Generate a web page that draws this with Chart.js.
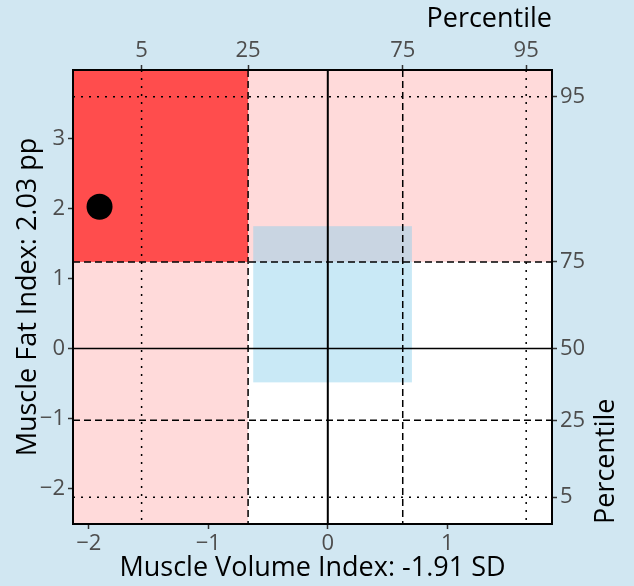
<!DOCTYPE html>
<html>
<head>
<meta charset="utf-8">
<script src="https://cdn.jsdelivr.net/npm/chart.js@4"></script>
<style>
  html, body { margin: 0; padding: 0; background: #d1e7f2; }
  #wrap { width: 634px; height: 586px; }
</style>
</head>
<body>
<div id="wrap"><canvas id="chart" width="634" height="586"></canvas></div>
<script>
// axis ticks and ranges (SD / pp units)
const xTicks = [-2, -1, 0, 1];
const yTicks = [-2, -1, 0, 1, 2, 3];
const xRange = [-2.132, 1.876];
const yRange = [-2.51, 3.987];

// percentile positions on each axis
const xPctValues = [-1.558, -0.667, 0.627, 1.66];
const xPctLabels = ['5', '25', '75', '95'];
const yPctValues = [-2.126, -1.027, 0, 1.241, 3.605];
const yPctLabels = ['5', '25', '50', '75', '95'];

// reference band (blue box)
const bandX = [-0.624, 0.704];
const bandY = [-0.483, 1.752];

// the subject
const subjectX = [-1.91];
const subjectY = [2.03];

const tickFont = { family: "'Open Sans', sans-serif", size: 22 };
const titleFont = { family: "'Open Sans', sans-serif", size: 27 };
const tickColor = '#4d4d4d';

function minus(s) { return String(s).replace('-', '\u2212'); }

function setTicks(values) {
    return function (scale) {
        scale.ticks = values.map(v => ({ value: v }));
    };
}

function fixSize(prop, px) {
    return function (scale) { scale[prop] = px; };
}

function lineStyle(label) {
    if (label === '5' || label === '95') return [2, 6];
    if (label === '25' || label === '75') return [7, 4];
    return [];
}

const zones = {
    id: 'zones',
    beforeDatasetsDraw(chart) {
        const { ctx, chartArea: a, scales: { x, y } } = chart;
        const x25 = x.getPixelForValue(xPctValues[xPctLabels.indexOf('25')]);
        const y75 = y.getPixelForValue(yPctValues[yPctLabels.indexOf('75')]);
        ctx.save();
        ctx.beginPath();
        ctx.rect(a.left, a.top, a.right - a.left, a.bottom - a.top);
        ctx.clip();
        ctx.fillStyle = '#ffffff';
        ctx.fillRect(a.left, a.top, a.right - a.left, a.bottom - a.top);
        // pink: below 25th on x, above 75th on y
        ctx.fillStyle = '#ffdada';
        ctx.fillRect(a.left, a.top, x25 - a.left, a.bottom - a.top);
        ctx.fillRect(a.left, a.top, a.right - a.left, y75 - a.top);
        // both
        ctx.fillStyle = '#ff4d4d';
        ctx.fillRect(a.left, a.top, x25 - a.left, y75 - a.top);
        // reference band
        const bx0 = x.getPixelForValue(bandX[0]), bx1 = x.getPixelForValue(bandX[1]);
        const by0 = y.getPixelForValue(bandY[0]), by1 = y.getPixelForValue(bandY[1]);
        ctx.fillStyle = 'rgba(135, 206, 235, 0.45)';
        ctx.fillRect(bx0, by1, bx1 - bx0, by0 - by1);

        ctx.strokeStyle = '#000';
        ctx.lineWidth = 1.5;
        // percentile lines
        xPctValues.forEach((v, i) => {
            const px = x.getPixelForValue(v);
            ctx.setLineDash(lineStyle(xPctLabels[i]));
            ctx.beginPath(); ctx.moveTo(px, a.top); ctx.lineTo(px, a.bottom); ctx.stroke();
        });
        yPctValues.forEach((v, i) => {
            if (yPctLabels[i] === '50') return;
            const py = y.getPixelForValue(v);
            ctx.setLineDash(lineStyle(yPctLabels[i]));
            ctx.beginPath(); ctx.moveTo(a.left, py); ctx.lineTo(a.right, py); ctx.stroke();
        });
        // zero lines
        ctx.setLineDash([]);
        const x0 = x.getPixelForValue(0), y0 = y.getPixelForValue(0);
        ctx.lineWidth = 2;
        ctx.beginPath(); ctx.moveTo(x0, a.top); ctx.lineTo(x0, a.bottom); ctx.stroke();
        ctx.lineWidth = 1.5;
        ctx.beginPath(); ctx.moveTo(a.left, y0); ctx.lineTo(a.right, y0); ctx.stroke();
        ctx.restore();

        // panel border
        ctx.save();
        ctx.strokeStyle = '#000';
        ctx.lineWidth = 2;
        ctx.strokeRect(a.left, a.top, a.right - a.left, a.bottom - a.top);
        ctx.restore();
    },
    afterDraw(chart) {
        // right-hand title, reading upward and ending at the panel bottom
        const { ctx, chartArea: a } = chart;
        ctx.save();
        ctx.translate(614, a.bottom);
        ctx.rotate(-Math.PI / 2);
        ctx.font = `${titleFont.size}px ${titleFont.family}`;
        ctx.fillStyle = '#000';
        ctx.textAlign = 'left';
        ctx.textBaseline = 'alphabetic';
        ctx.fillText('Percentile', 0, 0);
        ctx.restore();
    }
};

const tickGrid = { display: true, drawOnChartArea: false, drawTicks: true, tickLength: 5, tickColor: '#333', tickWidth: 1.5 };

new Chart(document.getElementById('chart').getContext('2d'), {
    type: 'scatter',
    data: {
        datasets: [{
            data: subjectX.map((v, i) => ({ x: v, y: subjectY[i] })),
            backgroundColor: '#000',
            borderWidth: 0,
            pointRadius: 13,
            xAxisID: 'x',
            yAxisID: 'y'
        }]
    },
    options: {
        responsive: false,
        animation: false,
        layout: { padding: 0 },
        plugins: { legend: { display: false }, tooltip: { enabled: false } },
        scales: {
            x: {
                type: 'linear', position: 'bottom', min: xRange[0], max: xRange[1],
                afterBuildTicks: setTicks(xTicks), afterFit: fixSize('height', 62),
                grid: tickGrid, border: { display: false },
                ticks: { font: tickFont, color: tickColor, padding: 2, autoSkip: false, maxRotation: 0, callback: v => minus(v) },
                title: { display: true, text: 'Muscle Volume Index: -1.91 SD', font: titleFont, color: '#000', padding: { top: 0, bottom: 1 } }
            },
            x2: {
                type: 'linear', position: 'top', min: xRange[0], max: xRange[1],
                afterBuildTicks: setTicks(xPctValues), afterFit: fixSize('height', 70),
                grid: tickGrid, border: { display: false },
                ticks: { font: tickFont, color: tickColor, padding: 1, autoSkip: false, maxRotation: 0, callback: (v, i) => xPctLabels[i] },
                title: { display: true, text: 'Percentile', align: 'end', font: titleFont, color: '#000', padding: { top: 3, bottom: 0 } }
            },
            y: {
                type: 'linear', position: 'left', min: yRange[0], max: yRange[1],
                afterBuildTicks: setTicks(yTicks), afterFit: fixSize('width', 73),
                grid: tickGrid, border: { display: false },
                ticks: { font: tickFont, color: tickColor, padding: 3, autoSkip: false, callback: v => minus(v) },
                title: { display: true, text: 'Muscle Fat Index: 2.03 pp', font: titleFont, color: '#000', padding: { top: 12, bottom: 0 } }
            },
            y2: {
                type: 'linear', position: 'right', min: yRange[0], max: yRange[1],
                afterBuildTicks: setTicks(yPctValues), afterFit: fixSize('width', 82),
                grid: tickGrid, border: { display: false },
                ticks: { font: tickFont, color: tickColor, padding: 3, autoSkip: false, callback: (v, i) => yPctLabels[i] }
            }
        }
    },
    plugins: [zones]
});
</script>
</body>
</html>
